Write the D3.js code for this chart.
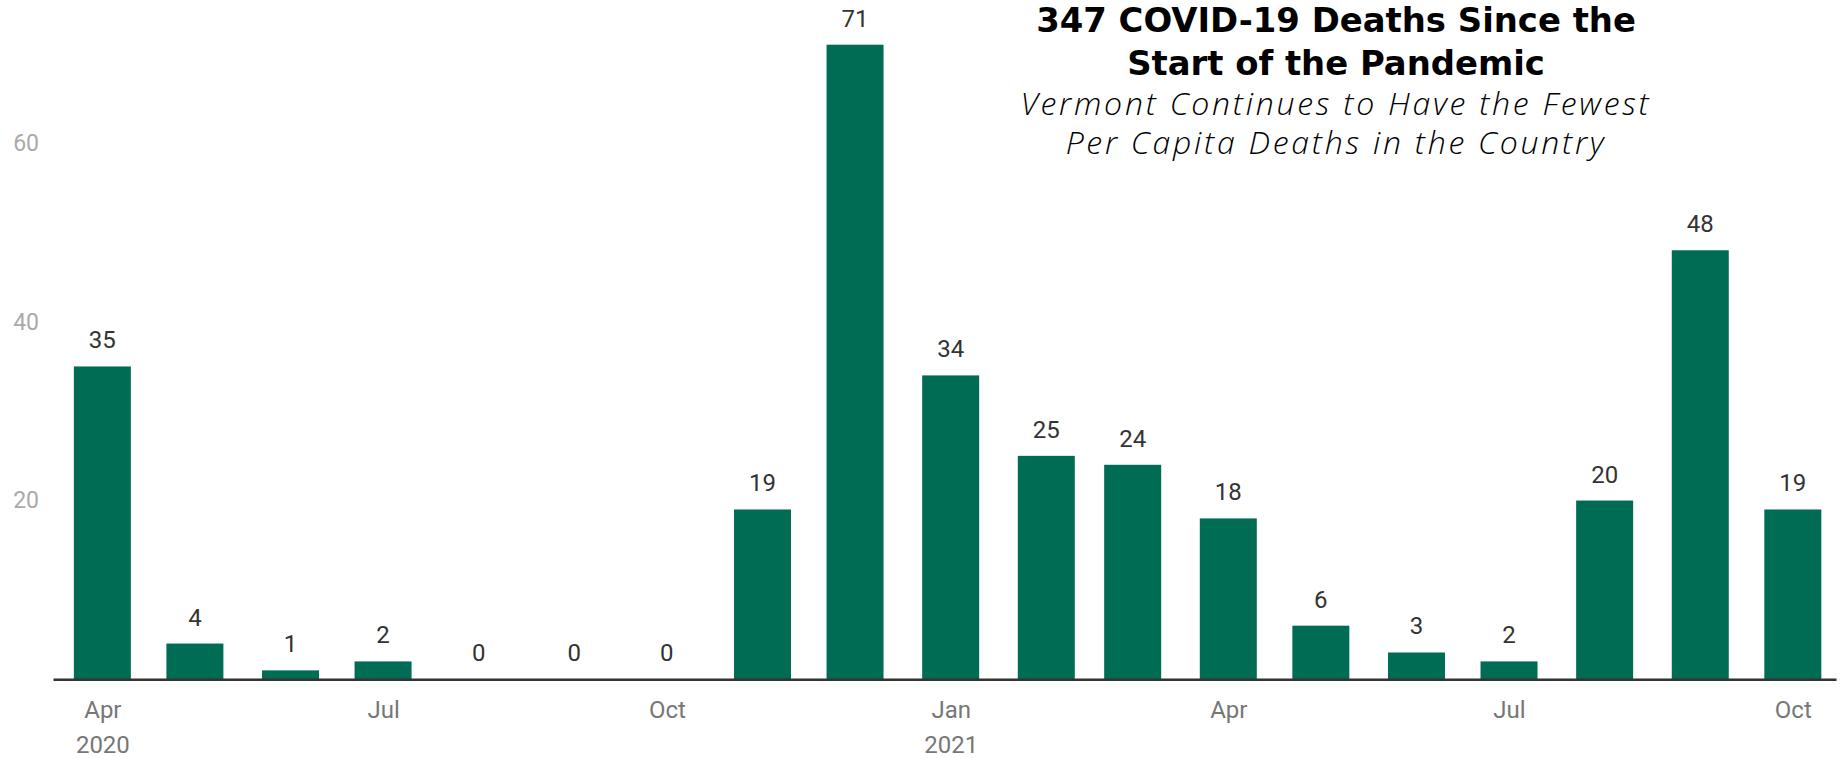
<!DOCTYPE html>
<html>
<head>
<meta charset="utf-8">
<script src="https://cdn.jsdelivr.net/npm/d3@7"></script>
<style>
  body { margin: 0; background: #fff; }
</style>
</head>
<body>
<script>
var months = ['2020-04', '2020-05', '2020-06', '2020-07', '2020-08', '2020-09', '2020-10',
  '2020-11', '2020-12', '2021-01', '2021-02', '2021-03', '2021-04', '2021-05', '2021-06',
  '2021-07', '2021-08', '2021-09', '2021-10'];
var deaths = [35, 4, 1, 2, 0, 0, 0, 19, 71, 34, 25, 24, 18, 6, 3, 2, 20, 48, 19];
var yTicks = [20, 40, 60];
var xTicks = ['2020-04', '2020-07', '2020-10', '2021-01', '2021-04', '2021-07', '2021-10'];
var titleLines = ['347 COVID-19 Deaths Since the', 'Start of the Pandemic'];
var subtitleLines = ['Vermont Continues to Have the Fewest', 'Per Capita Deaths in the Country'];

var parseMonth = d3.timeParse('%Y-%m');
var data = months.map(function(m, i) {
  return { date: parseMonth(m), value: deaths[i] };
});

var width = 1841, height = 758;
var baseline = 679.3;

var svg = d3.select('body').append('svg')
  .attr('width', width)
  .attr('height', height);

var x = d3.scaleTime()
  .domain([new Date(2020, 2, 16), new Date(2021, 9, 15)])
  .range([53, 1836]);

var y = d3.scaleLinear()
  .domain([0, 76])
  .range([baseline, 0]);

var barWidth = 57;

// bars
svg.selectAll('rect.bar')
  .data(data)
  .enter().append('rect')
  .attr('class', 'bar')
  .attr('x', function(d) { return x(d.date) - barWidth / 2; })
  .attr('y', function(d) { return y(d.value); })
  .attr('width', barWidth)
  .attr('height', function(d) { return baseline - y(d.value); })
  .style('fill', '#016c54');

// value labels
svg.selectAll('text.val')
  .data(data)
  .enter().append('text')
  .attr('class', 'val')
  .attr('x', function(d) { return x(d.date); })
  .attr('y', function(d) { return y(d.value) - 18; })
  .attr('text-anchor', 'middle')
  .style('font-family', 'Roboto')
  .style('font-size', '24px')
  .style('fill', '#333')
  .text(function(d) { return d.value; });

// y axis labels, no line
var yAxis = svg.append('g')
  .attr('transform', 'translate(39,0)')
  .call(d3.axisLeft(y).tickValues(yTicks).tickSize(0).tickPadding(0));
yAxis.select('.domain').remove();
yAxis.selectAll('text')
  .style('font-family', 'Roboto')
  .style('font-size', '23px')
  .style('fill', '#aaa');

// x axis
var xAxis = svg.append('g')
  .attr('transform', 'translate(0,' + baseline + ')')
  .call(d3.axisBottom(x)
    .tickValues(xTicks.map(parseMonth))
    .tickSize(0)
    .tickPadding(0)
    .tickFormat(d3.timeFormat('%b')));
xAxis.select('.domain')
  .style('stroke', '#333')
  .style('stroke-width', 2.5);
xAxis.selectAll('text')
  .attr('y', 39)
  .attr('dy', null)
  .style('font-family', 'Roboto')
  .style('font-size', '24px')
  .style('fill', '#777');

// year under the first month of each year
xAxis.selectAll('.tick')
  .filter(function(d) { return d.getMonth() === 3 && d.getFullYear() === 2020 || d.getMonth() === 0; })
  .append('text')
  .attr('y', 74)
  .attr('text-anchor', 'middle')
  .style('font-family', 'Roboto')
  .style('font-size', '24px')
  .style('fill', '#777')
  .text(function(d) { return d.getFullYear(); });

// title: bold, font size fitted to the reference width
var title = svg.append('text')
  .attr('text-anchor', 'middle')
  .style('font-family', 'DejaVu Sans')
  .style('font-weight', 700)
  .style('font-size', '32px')
  .style('fill', '#000');
title.selectAll('tspan')
  .data(titleLines)
  .enter().append('tspan')
  .attr('x', 1336)
  .attr('y', function(d, i) { return 31.7 + i * 43.3; })
  .text(function(d) { return d; });
var tw = title.select('tspan').node().getComputedTextLength();
title.style('font-size', (32 * 600 / tw) + 'px');

// subtitle: light italic, letter-spaced out to the reference width
var subtitle = svg.append('text')
  .attr('text-anchor', 'middle')
  .style('font-family', 'Open Sans')
  .style('font-weight', 300)
  .style('font-style', 'italic')
  .style('font-size', '32px')
  .style('fill', '#000');
subtitle.selectAll('tspan')
  .data(subtitleLines)
  .enter().append('tspan')
  .attr('x', 1336)
  .attr('y', function(d, i) { return 115 + i * 39; })
  .text(function(d) { return d; });
var sw = subtitle.select('tspan').node().getComputedTextLength();
subtitle.style('letter-spacing', ((631 - sw) / subtitleLines[0].length) + 'px');
</script>
</body>
</html>
